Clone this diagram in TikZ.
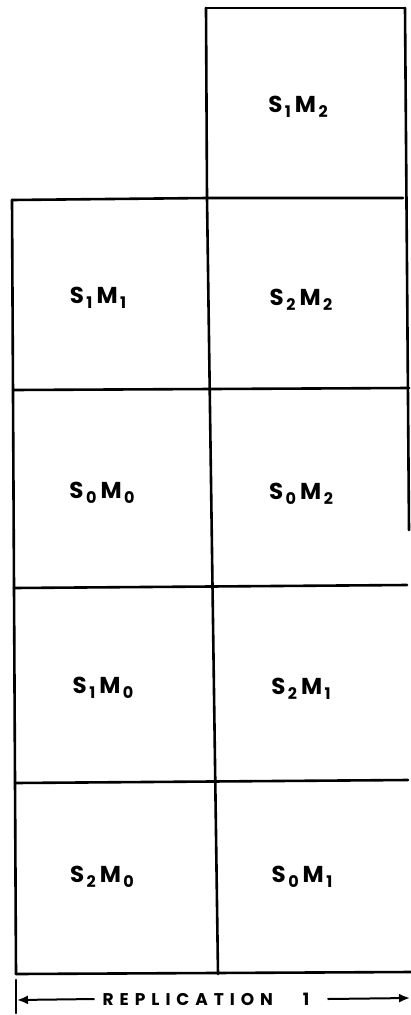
\documentclass[tikz,border=0pt]{standalone}
\usepackage{fontspec}
\setmainfont{Poppins}
\usetikzlibrary{arrows.meta}
\newcommand{\smlab}[2]{S\kern2.5pt\raisebox{-5pt}{\fontsize{16}{16}\selectfont #1}\kern4pt M\kern2.5pt\raisebox{-5pt}{\fontsize{16}{16}\selectfont #2}}
\begin{document}
\begin{tikzpicture}[x=1pt,y=-1pt,
  gridline/.style={line width=2.6pt, line cap=round},
  lab/.style={font=\fontsize{23}{23}\selectfont\bfseries, inner sep=0pt},
  dimline/.style={line width=2pt, -{Latex[length=11pt,width=9pt]}}]
\useasboundingbox (0,0) rectangle (411,1015);
% outline and grid
\draw[gridline] (206,8) -- (405,8);
\draw[gridline] (206,8) -- (207,198);
\draw[gridline] (405,8) -- (409,530);
\draw[gridline] (12,200) -- (207,198) -- (403,198);
\draw[gridline] (207,198) -- (218,974);
\draw[gridline] (12,200) -- (16,974);
\draw[gridline] (16,980) -- (16,1013);
\draw[gridline] (13,390) -- (409,388);
\draw[gridline] (14,588) -- (407,585);
\draw[gridline] (15,783) -- (408,780);
\draw[gridline] (16,974) -- (411,972);
% labels
\node[lab] (s1m2) at (298,107) {\smlab{1}{2}};
\node[lab] (s1m1) at (98,298) {\smlab{1}{1}};
\node[lab] (s2m2) at (301,300) {\smlab{2}{2}};
\node[lab] (s0m0) at (102,493) {\smlab{0}{0}};
\node[lab] (s0m2) at (301,494) {\smlab{0}{2}};
\node[lab] (s1m0) at (103,688) {\smlab{1}{0}};
\node[lab] (s2m1) at (301,689) {\smlab{2}{1}};
\node[lab] (s2m0) at (102,877) {\smlab{2}{0}};
\node[lab] (s0m1) at (302,877) {\smlab{0}{1}};
% replication dimension
\node[inner sep=0pt, font=\fontsize{17}{17}\selectfont\bfseries\addfontfeature{LetterSpace=35}] (rep) at (206,999) {REPLICATION\hspace{30pt}1};
\coordinate (la) at (17,1000);
\coordinate (ra) at (410,998);
\draw[dimline] ([xshift=-8pt]rep.west) -- (la);
\draw[dimline] ([xshift=18pt]rep.east) -- (ra);
\end{tikzpicture}
\end{document}
